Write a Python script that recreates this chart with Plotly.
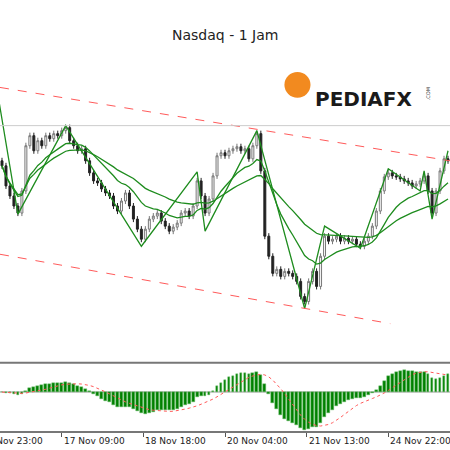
import pandas as pd
import plotly.graph_objects as go
from plotly.subplots import make_subplots

# ---- data (arbitrary price units, one candle per bar) ----
closes = [235, 215, 205, 195, 188, 210, 255, 265, 250, 260, 255, 265, 262, 267, 265, 270,
          273, 260, 255, 250, 252, 240, 228, 220, 218, 212, 208, 205, 195, 190, 200, 208,
          195, 182, 172, 162, 172, 182, 185, 188, 180, 175, 170, 174, 178, 188, 190, 185,
          195, 220, 205, 188, 202, 225, 245, 248, 245, 250, 252, 254, 250, 252, 242, 255,
          267, 230, 165, 145, 128, 132, 125, 130, 128, 125, 120, 105, 100, 120, 130, 115,
          145, 165, 160, 162, 165, 160, 163, 160, 162, 157, 155, 160, 165, 175, 190, 210,
          224, 228, 225, 224, 222, 220, 218, 215, 217, 220, 225, 210, 188, 210, 230, 242, 240]
first_open = 240

zz_idx = [-1, 4, 16, 35, 49, 51, 64, 76, 81, 90, 97, 105, 106, 108, 112]
zz_val = [305, 187, 275, 155, 229, 170, 270, 93, 175, 153, 232, 210, 230, 182, 250]

upper_x = [-0.5, 112.5]
upper_y = [313, 240]
lower_x = [-0.5, 97.5]
lower_y = [147, 78]
level = 275

tick_idx = [-5.5, 15, 35.5, 56, 76.5, 97]
tick_lbl = ["16 Nov 23:00", "17 Nov 09:00", "18 Nov 18:00",
            "20 Nov 04:00", "21 Nov 13:00", "24 Nov 22:00"]

s = pd.Series(closes, dtype=float)
opens = [first_open] + closes[:-1]
highs = [max(o, c) + 3 for o, c in zip(opens, closes)]
lows = [min(o, c) - 3 for o, c in zip(opens, closes)]
x = list(range(len(closes)))
n = len(closes)

ma_fast = s.ewm(span=14).mean()
ma_slow = s.ewm(span=34).mean()
macd = s.ewm(span=12).mean() - s.ewm(span=26).mean()
signal = macd.rolling(9, min_periods=1).mean()

fig = make_subplots(rows=2, cols=1, shared_xaxes=True, vertical_spacing=0.0)

fig.add_trace(go.Candlestick(
    x=x, open=opens, high=highs, low=lows, close=closes,
    increasing=dict(line=dict(color="#777777", width=1), fillcolor="#ffffff"),
    decreasing=dict(line=dict(color="#222222", width=1), fillcolor="#222222"),
    whiskerwidth=0), row=1, col=1)
fig.add_trace(go.Scatter(x=x, y=ma_fast, mode="lines",
                         line=dict(color="#1e8c1e", width=1.3)), row=1, col=1)
fig.add_trace(go.Scatter(x=x, y=ma_slow, mode="lines",
                         line=dict(color="#1e8c1e", width=1.3)), row=1, col=1)
fig.add_trace(go.Scatter(x=zz_idx, y=zz_val, mode="lines",
                         line=dict(color="#1e8c1e", width=1.3)), row=1, col=1)
fig.add_trace(go.Scatter(x=upper_x, y=upper_y, mode="lines",
                         line=dict(color="#ff5a5a", width=1, dash="dash")), row=1, col=1)
fig.add_trace(go.Scatter(x=lower_x, y=lower_y, mode="lines",
                         line=dict(color="#ff5a5a", width=1, dash="dash")), row=1, col=1)

fig.add_trace(go.Bar(x=x, y=macd, marker=dict(color="#008000", line=dict(color="#6fbf6f", width=0.5)),
                     width=0.7), row=2, col=1)
fig.add_trace(go.Scatter(x=x, y=signal, mode="lines",
                         line=dict(color="#ff5a5a", width=1, dash="dot")), row=2, col=1)

m_hi = max(macd.max(), signal.max())
m_lo = min(macd.min(), signal.min())

fig.update_layout(
    width=450, height=450, showlegend=False, plot_bgcolor="white", paper_bgcolor="white",
    margin=dict(l=0, r=0, t=0, b=0), bargap=0,
    xaxis=dict(range=[-0.5, n - 0.5], showgrid=False, rangeslider=dict(visible=False),
               showticklabels=False, zeroline=False),
    xaxis2=dict(range=[-0.5, n - 0.5], showgrid=False, showticklabels=False, zeroline=False,
                tickvals=tick_idx, ticks="outside", ticklen=4, tickcolor="#555"),
    yaxis=dict(domain=[0.196, 1], range=[40, 400], showgrid=False, showticklabels=False,
               zeroline=False),
    yaxis2=dict(domain=[0.04, 0.191], range=[m_lo * 1.05, m_hi * 1.3], showgrid=False,
                showticklabels=False, zeroline=True, zerolinecolor="#cccccc"),
    shapes=[
        dict(type="line", xref="paper", yref="y", x0=0, x1=1, y0=level, y1=level,
             line=dict(color="#cccccc", width=1)),
        dict(type="line", xref="paper", yref="paper", x0=0, x1=1, y0=0.194, y1=0.194,
             line=dict(color="#777777", width=2)),
        dict(type="line", xref="paper", yref="paper", x0=0, x1=1, y0=0.04, y1=0.04,
             line=dict(color="#777777", width=2)),
        dict(type="circle", xref="paper", yref="paper", x0=0.632, x1=0.69, y0=0.783, y1=0.84,
             fillcolor="#f28a1f", line=dict(width=0)),
    ],
    annotations=[
        dict(text="Nasdaq - 1 Jam", xref="paper", yref="paper", x=0.5, y=0.945,
             showarrow=False, font=dict(family="DejaVu Sans", size=14, color="#222")),
        dict(text="<b>PEDIAFX</b>", xref="paper", yref="paper", x=0.695, y=0.81,
             xanchor="left", showarrow=False,
             font=dict(family="DejaVu Sans", size=20, color="#1a1a1a")),
        dict(text=".COM", xref="paper", yref="paper", x=0.963, y=0.81, textangle=-90,
             showarrow=False, font=dict(family="DejaVu Sans", size=5, color="#333")),
    ] + [
        dict(text=t, x=(i + 0.5) / n, xref="paper", yref="paper", y=0.005,
             xanchor="left", yanchor="bottom", showarrow=False,
             font=dict(family="DejaVu Sans", size=9, color="#222"))
        for i, t in zip(tick_idx, tick_lbl)
    ],
)

fig.write_html("out.html", config={"displayModeBar": False},
               post_script="document.body.style.margin='0';")
